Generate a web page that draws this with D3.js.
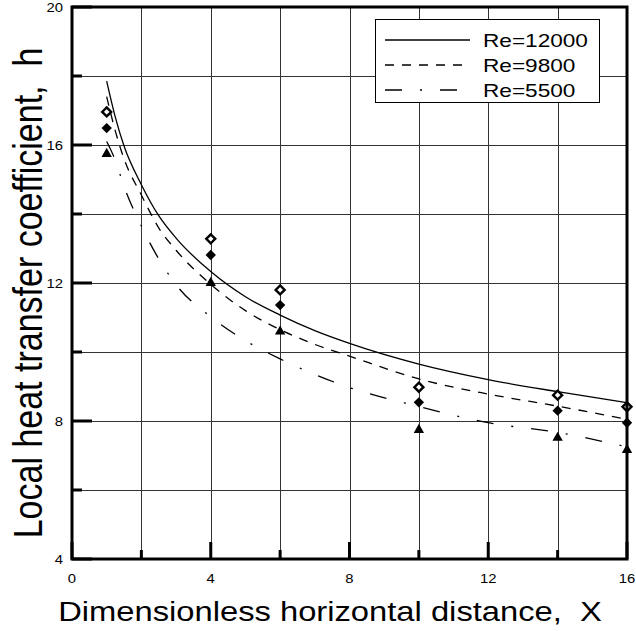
<!DOCTYPE html>
<html><head><meta charset="utf-8">
<script src="https://cdn.jsdelivr.net/npm/d3@7"></script>
<style>body{margin:0;background:#fff}svg{display:block}text{font-family:"Liberation Sans",Arial,sans-serif;fill:#000;white-space:pre}</style>
</head><body><svg id="c" width="636" height="631"></svg>
<script>
// ---- data ----
const curveX   = [1, 1.25, 1.5, 2, 2.5, 3, 4, 5, 6, 7, 8, 10, 12, 14, 16];
const re12000  = [17.85, 16.8, 15.97, 14.85, 13.95, 13.3, 12.33, 11.6, 11.07, 10.62, 10.25, 9.65, 9.2, 8.85, 8.53];
const re9800   = [17.4, 16.4, 15.6, 14.55, 13.6, 12.95, 11.96, 11.2, 10.65, 10.22, 9.88, 9.22, 8.78, 8.43, 8.05];
const re5500   = [16.1, 15.55, 14.8, 13.65, 12.7, 11.95, 11.02, 10.33, 9.8, 9.35, 8.97, 8.42, 7.95, 7.67, 7.25];
const pointX   = [1, 4, 6, 10, 14, 16];
const pts12000 = [16.96, 13.28, 11.80, 8.98, 8.75, 8.41];
const pts9800  = [16.49, 12.81, 11.36, 8.54, 8.30, 7.95];
const pts5500  = [15.77, 12.03, 10.62, 7.77, 7.54, 7.19];
const xTicks   = [0, 4, 8, 12, 16];
const yTicks   = [4, 8, 12, 16, 20];
const gridX    = [2, 4, 6, 8, 10, 12, 14];
const gridY    = [6, 8, 10, 12, 14, 16, 18];
const minorX   = [2, 6, 10, 14];
const minorY   = [6, 10, 14, 18];
const legendLabels = ["Re=12000", "Re=9800", "Re=5500"];

// ---- layout ----
const svg = d3.select("#c");
const L = 72, R = 627, T = 7, B = 559;
const SX = 1.19; // horizontal stretch of text
const x = d3.scaleLinear().domain([0, 16]).range([L, R]);
const y = d3.scaleLinear().domain([4, 20]).range([B, T]);

// grid
svg.append("g").selectAll("line").data(gridX).join("line")
  .attr("x1", d => Math.round(x(d)) + 0.5).attr("x2", d => Math.round(x(d)) + 0.5)
  .attr("y1", T).attr("y2", B).attr("stroke", "#333").attr("stroke-width", 1);
svg.append("g").selectAll("line").data(gridY).join("line")
  .attr("y1", d => Math.round(y(d)) + 0.5).attr("y2", d => Math.round(y(d)) + 0.5)
  .attr("x1", L).attr("x2", R).attr("stroke", "#333").attr("stroke-width", 1);

// ticks (inside, on left and bottom)
const tk = svg.append("g").attr("stroke", "#000").attr("stroke-width", 3);
tk.selectAll(".mx").data(xTicks).join("line")
  .attr("x1", d => x(d)).attr("x2", d => x(d)).attr("y1", B).attr("y2", B - 17);
tk.selectAll(".nx").data(minorX).join("line")
  .attr("x1", d => x(d)).attr("x2", d => x(d)).attr("y1", B).attr("y2", B - 9);
tk.selectAll(".my").data(yTicks).join("line")
  .attr("y1", d => y(d)).attr("y2", d => y(d)).attr("x1", L).attr("x2", L + 20);
tk.selectAll(".ny").data(minorY).join("line")
  .attr("y1", d => y(d)).attr("y2", d => y(d)).attr("x1", L).attr("x2", L + 10);

// tick labels
svg.append("g").selectAll("text").data(xTicks).join("text")
  .attr("transform", d => `translate(${x(d)},${B + 24}) scale(${SX},1)`)
  .attr("text-anchor", "middle").attr("font-size", 12.5).text(d => d);
svg.append("g").selectAll("text").data(yTicks).join("text")
  .attr("transform", d => `translate(${L - 9},${y(d) + 4.5}) scale(${SX},1)`)
  .attr("text-anchor", "end").attr("font-size", 12.5).text(d => d);

// curves
const line = d3.line().x(d => x(d[0])).y(d => y(d[1])).curve(d3.curveMonotoneX);
const series = [
  {v: re12000, dash: null},
  {v: re9800, dash: "9,8"},
  {v: re5500, dash: "17,18,2,18"}
];
series.forEach(s => {
  svg.append("path").datum(curveX.map((cx, i) => [cx, s.v[i]]))
    .attr("d", line).attr("fill", "none").attr("stroke", "#000").attr("stroke-width", 1.3)
    .attr("stroke-dasharray", s.dash);
});

// markers
const diamondPath = "M0,-4.5L4.5,0L0,4.5L-4.5,0Z";
const filledDiamond = "M0,-5.2L5.2,0L0,5.2L-5.2,0Z";
const triPath = "M0,-5.2L5.2,4L-5.2,4Z";
svg.append("g").selectAll("path").data(pointX.map((px, i) => [px, pts12000[i]])).join("path")
  .attr("transform", d => `translate(${x(d[0])},${y(d[1])})`)
  .attr("d", diamondPath).attr("fill", "#fff").attr("stroke", "#000").attr("stroke-width", 2.4)
  .attr("stroke-linejoin", "miter");
svg.append("g").selectAll("path").data(pointX.map((px, i) => [px, pts9800[i]])).join("path")
  .attr("transform", d => `translate(${x(d[0])},${y(d[1])})`)
  .attr("d", filledDiamond).attr("fill", "#000");
svg.append("g").selectAll("path").data(pointX.map((px, i) => [px, pts5500[i]])).join("path")
  .attr("transform", d => `translate(${x(d[0])},${y(d[1])})`)
  .attr("d", triPath).attr("fill", "#000");

// frame
svg.append("rect").attr("x", L).attr("y", T).attr("width", R - L).attr("height", B - T)
  .attr("fill", "none").attr("stroke", "#000").attr("stroke-width", 3);

// legend
const lg = svg.append("g");
lg.append("rect").attr("x", 375.5).attr("y", 19.5).attr("width", 224).attr("height", 83)
  .attr("fill", "#fff").attr("stroke", "#000").attr("stroke-width", 1);
legendLabels.forEach((lab, i) => {
  const ly = 40 + i * 25;
  lg.append("line").attr("x1", 385).attr("x2", 470).attr("y1", ly).attr("y2", ly)
    .attr("stroke", "#000").attr("stroke-width", 1.3).attr("stroke-dasharray", series[i].dash);
  lg.append("text").attr("transform", `translate(483,${ly + 7}) scale(${SX},1)`)
    .attr("font-size", 19).text(lab);
});

// axis titles
svg.append("text").attr("transform", `translate(330,621) scale(${SX},1)`)
  .attr("text-anchor", "middle").attr("font-size", 27.5).text("Dimensionless horizontal distance,  X");
svg.append("text").attr("transform", `translate(42,293) scale(${SX},1) rotate(-90)`)
  .attr("text-anchor", "middle").attr("font-size", 34).text("Local heat transfer coefficient,  h");
</script></body></html>
